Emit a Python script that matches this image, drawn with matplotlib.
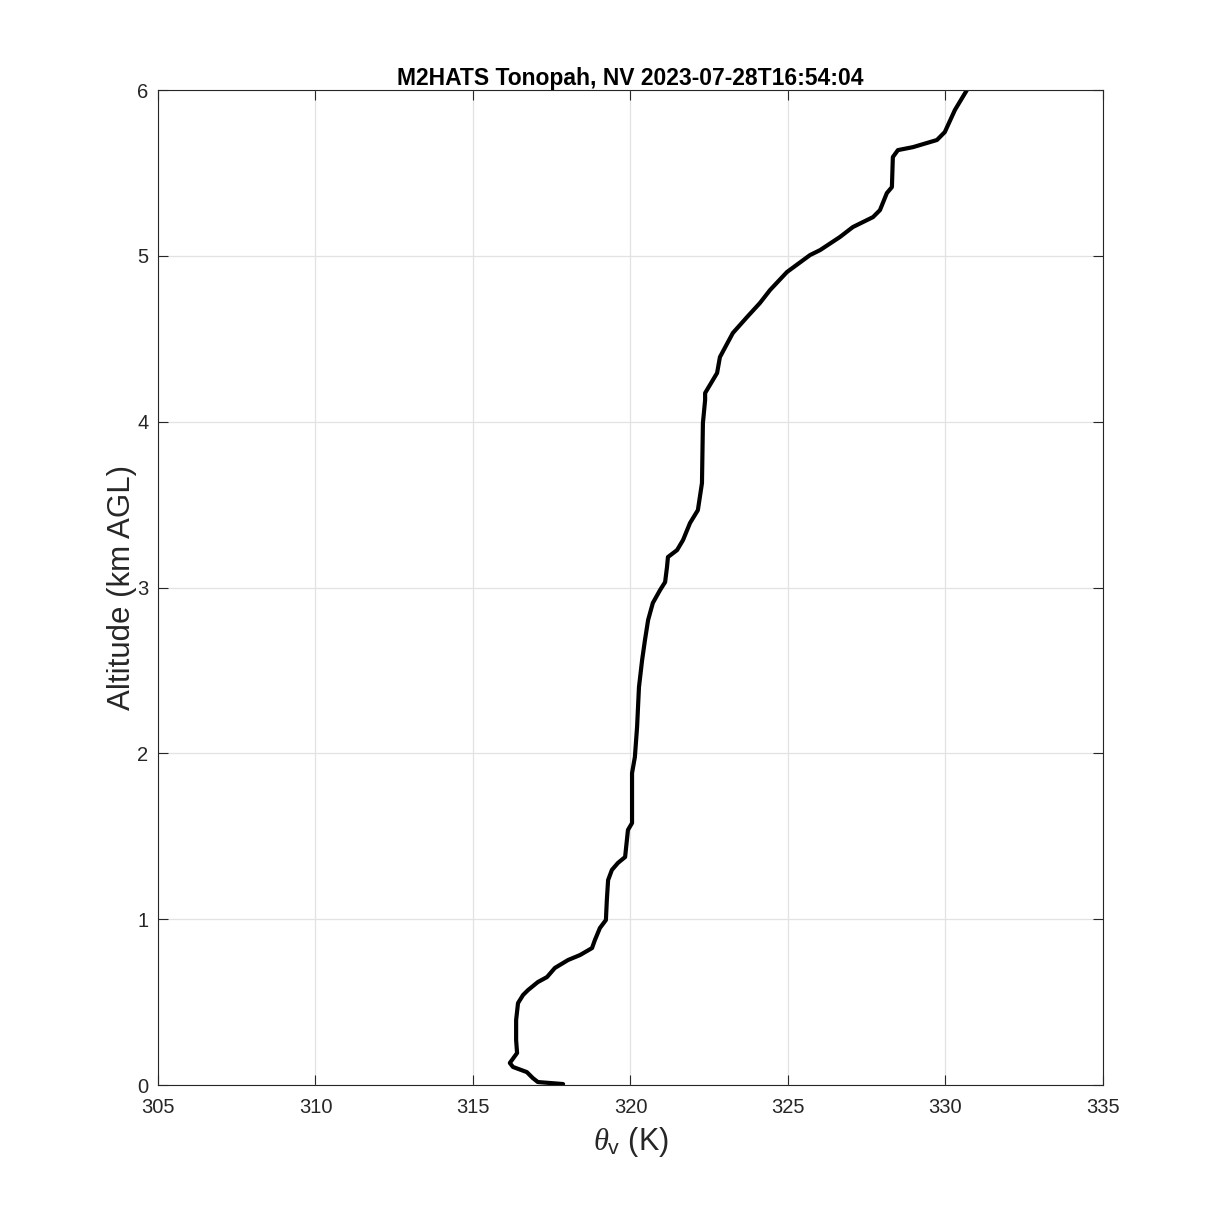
import numpy as np
import matplotlib.pyplot as plt

plt.rcParams['font.family'] = ['Liberation Sans', 'DejaVu Sans']
plt.rcParams['mathtext.fontset'] = 'custom'
plt.rcParams['mathtext.rm'] = 'Liberation Sans'
plt.rcParams['mathtext.it'] = 'Liberation Serif:italic'

# virtual potential temperature (K) vs altitude (km AGL)
theta_v = [317.86, 317.06, 316.90, 316.71, 316.27, 316.17, 316.40, 316.37, 316.37,
           316.43, 316.59, 316.75, 317.06, 317.35, 317.60, 318.02, 318.40, 318.78,
           318.87, 319.03, 319.22, 319.25, 319.29, 319.41, 319.60, 319.83, 319.92,
           320.05, 320.05, 320.14, 320.21, 320.27, 320.37, 320.46, 320.56, 320.71,
           320.94, 321.10, 321.16, 321.19, 321.48, 321.67, 321.89, 322.14, 322.27,
           322.30, 322.37, 322.37, 322.75, 322.84, 323.25, 323.70, 324.11, 324.43,
           324.97, 325.70, 326.02, 326.65, 327.06, 327.70, 327.92, 328.14, 328.30,
           328.33, 328.49, 328.97, 329.73, 329.98, 330.30, 330.68]
alt_km = [0.006, 0.018, 0.042, 0.078, 0.109, 0.133, 0.193, 0.271, 0.392,
          0.494, 0.543, 0.573, 0.621, 0.651, 0.706, 0.754, 0.784, 0.826,
          0.874, 0.947, 0.995, 1.116, 1.236, 1.297, 1.339, 1.375, 1.538,
          1.580, 1.881, 1.978, 2.159, 2.400, 2.563, 2.683, 2.804, 2.907,
          2.985, 3.033, 3.124, 3.184, 3.226, 3.287, 3.389, 3.467, 3.630,
          3.992, 4.131, 4.173, 4.294, 4.390, 4.535, 4.631, 4.716, 4.794,
          4.903, 5.005, 5.035, 5.114, 5.174, 5.234, 5.276, 5.379, 5.415,
          5.596, 5.638, 5.656, 5.699, 5.747, 5.880, 6.000]

xticks = [305, 310, 315, 320, 325, 330, 335]
yticks = [0, 1, 2, 3, 4, 5, 6]

fig = plt.figure(figsize=(12.19, 12.19), dpi=100)
ax = fig.add_axes([0.1296, 0.1099, 0.7752, 0.8162])

ax.plot(theta_v, alt_km, color='black', lw=3.0, solid_capstyle='round',
        solid_joinstyle='round')

ax.set_xlim(305, 335)
ax.set_ylim(0, 6)
ax.set_xticks(xticks)
ax.set_yticks(yticks)
ax.grid(True, color='#e2e2e2', lw=0.9)
ax.set_axisbelow(True)
ax.tick_params(direction='in', length=7, width=0.8, top=True, right=True,
               labelsize=14.5, colors='#262626')
ax.tick_params(axis='x', pad=9)
ax.tick_params(axis='y', pad=7)
for s in ax.spines.values():
    s.set_linewidth(0.8)
    s.set_color('#262626')

ax.set_title('M2HATS Tonopah, NV 2023-07-28T16:54:04', fontsize=16.5,
             fontweight='bold', pad=4)
ax.set_xlabel(r'$\theta_{\mathrm{v}}$ (K)', fontsize=22, color='#262626', labelpad=6)
ax.set_ylabel('Altitude (km AGL)', fontsize=22.5, color='#262626', labelpad=0)

fig.savefig('out.png', dpi=100)
